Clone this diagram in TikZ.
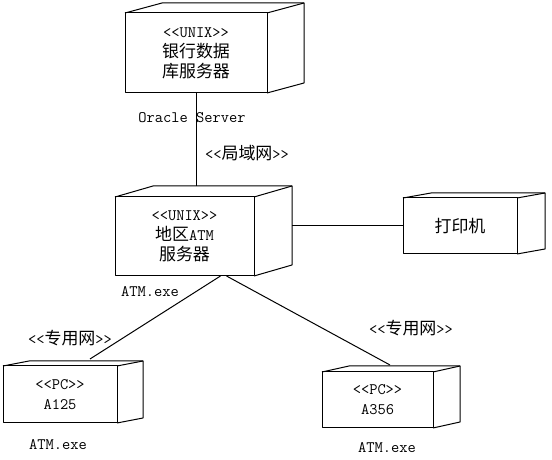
\documentclass[tikz,border=0pt]{standalone}
\usepackage{fontspec}
\newfontfamily\cjk{Noto Sans CJK SC}[Scale=1.06]
\newcommand\zh[1]{{\cjk #1}}
\newcommand\stereo[1]{<{}<#1>{}>}
\tikzset{
  boxline/.style={draw=drawColor,line width=1pt,line join=round},
  nodebox/.style={boxline,align=center,inner sep=0pt,outer sep=0pt},
  every node/.style={font=\ttfamily\fontsize{16}{20}\selectfont,text=drawColor},
}
\begin{document}
\begin{tikzpicture}[x=1pt,y=1pt]
\definecolor{fillColor}{RGB}{255,255,255}
\definecolor{drawColor}{RGB}{0,0,0}
\path[use as bounding box,fill=fillColor] (0,0) rectangle (552,460);

% nodes (front faces)
\node[nodebox,minimum width=142,minimum height=80] (srv) at (196.0,407.0) {\stereo{UNIX}\\\zh{银行数据}\\\zh{库服务器}};
\node[nodebox,minimum width=139,minimum height=79] (atm) at (184.5,223.5) {\stereo{UNIX}\\\zh{地区}ATM\\\zh{服务器}};
\node[nodebox,minimum width=114,minimum height=56] (prn) at (460.0,234.0) {\zh{打印机}};
\node[nodebox,minimum width=114,minimum height=57] (pc1) at ( 60.0, 65.5) {\stereo{PC}\\A125};
\node[nodebox,minimum width=111,minimum height=56] (pc2) at (377.5, 60.0) {\stereo{PC}\\A356};

% depth of the boxes
\foreach \n/\dx/\dy in {srv/37/10,atm/38/11,prn/28/5,pc1/26/5,pc2/27/6}{
  \draw[boxline] (\n.north west) -- ++(\dx,\dy) --
    ([shift={(\dx,\dy)}]\n.north east) coordinate (\n-top) --
    ([shift={(\dx,\dy)}]\n.south east) -- (\n.south east);
  \draw[boxline] (\n.north east) -- (\n-top);
}

% links
\coordinate (lan) at (srv.south |- atm-top);
\draw[boxline] (srv.south) -- (lan);
\coordinate (atmside) at (prn.west -| atm-top);
\draw[boxline] (atmside) -- (prn.west);
\draw[boxline] ([xshift=36]atm.south) -- ([xshift=30,yshift=7]pc1.north);
\draw[boxline] ([xshift=42]atm.south) -- ([xshift=12.5,yshift=7]pc2.north);

% labels
\node (orcl) at (192,342) {Oracle Server};
\node (lanlbl) at (247,307) {\stereo{\zh{局域网}}};
\node (exe0) at (150,168) {ATM.exe};
\node (net1) at ( 70,122) {\stereo{\zh{专用网}}};
\node (exe1) at ( 58, 15) {ATM.exe};
\node (net2) at (411,132) {\stereo{\zh{专用网}}};
\node (exe2) at (387, 12) {ATM.exe};
\end{tikzpicture}
\end{document}
